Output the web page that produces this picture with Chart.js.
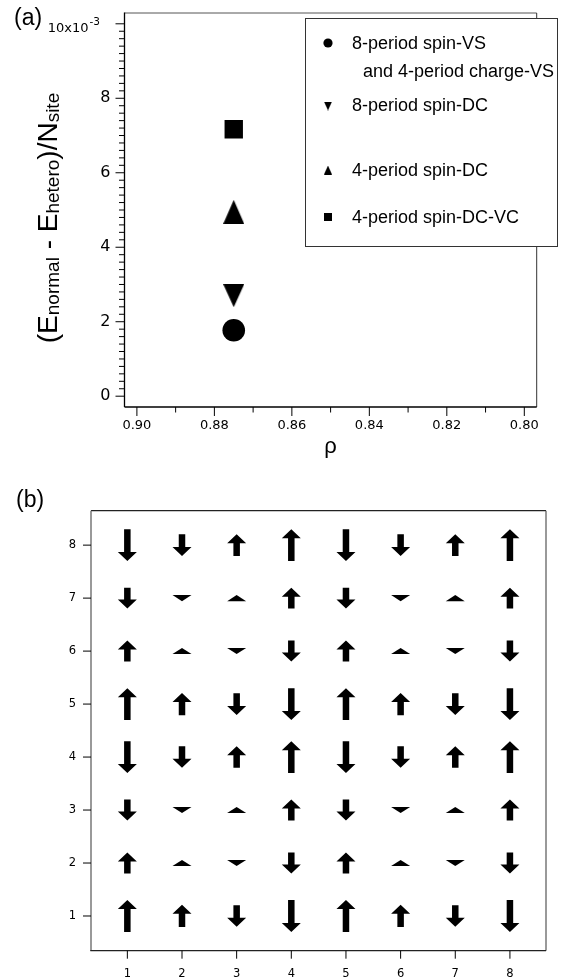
<!DOCTYPE html>
<html>
<head>
<meta charset="utf-8">
<script src="https://cdn.jsdelivr.net/npm/chart.js@4.4.1/dist/chart.umd.min.js"></script>
<style>
  html, body { margin: 0; padding: 0; background: #fff; }
  #wrap { position: relative; width: 568px; height: 980px; }
  #chartA { position: absolute; left: 0; top: 0; }
  #chartB { position: absolute; left: 0; top: 480px; }
</style>
</head>
<body>
<div id="wrap">
  <canvas id="chartA" width="568" height="470"></canvas>
  <canvas id="chartB" width="568" height="500"></canvas>
</div>
<script>
// ================= DATA (a) =================
const seriesNames = ["8-period spin-VS", "8-period spin-DC", "4-period spin-DC", "4-period spin-DC-VC"];
const rhoValues = [0.875, 0.875, 0.875, 0.875];
const energyValues = [1.77, 2.70, 4.95, 7.17];   // x10^-3
const xTickLabels = [0.80, 0.82, 0.84, 0.86, 0.88, 0.90];
const yTickLabels = [0, 2, 4, 6, 8, 10];

// ================= DATA (b) =================
const siteCols = [1, 2, 3, 4, 5, 6, 7, 8];
const siteRows = [1, 2, 3, 4, 5, 6, 7, 8];
// signed spin per site, + is up (row 1 at the bottom)
const spinRow1 = [ 1.00,  0.70, -0.68, -1.00,  1.00,  0.70, -0.68, -1.00];
const spinRow2 = [ 0.66,  0.19, -0.19, -0.66,  0.66,  0.19, -0.19, -0.66];
const spinRow3 = [-0.66, -0.19,  0.19,  0.66, -0.66, -0.19,  0.19,  0.66];
const spinRow4 = [-1.00, -0.68,  0.68,  1.00, -1.00, -0.68,  0.68,  1.00];
const spinRow5 = [ 1.00,  0.70, -0.68, -1.00,  1.00,  0.70, -0.68, -1.00];
const spinRow6 = [ 0.66,  0.19, -0.19, -0.66,  0.66,  0.19, -0.19, -0.66];
const spinRow7 = [-0.66, -0.19,  0.19,  0.66, -0.66, -0.19,  0.19,  0.66];
const spinRow8 = [-1.00, -0.68,  0.68,  1.00, -1.00, -0.68,  0.68,  1.00];
const gridTickLabels = [1, 2, 3, 4, 5, 6, 7, 8];

const spinRows = [spinRow1, spinRow2, spinRow3, spinRow4, spinRow5, spinRow6, spinRow7, spinRow8];

// ================= HELPERS =================
const TICK_FONT = "DejaVu Sans";
const TEXT_FONT = "Liberation Sans";

function makeTriangle(w, h, down) {
  const c = document.createElement("canvas");
  c.width = w; c.height = h;
  const g = c.getContext("2d");
  g.fillStyle = "#000";
  g.beginPath();
  if (down) { g.moveTo(0, 0); g.lineTo(w, 0); g.lineTo(w / 2, h); }
  else { g.moveTo(w / 2, 0); g.lineTo(w, h); g.lineTo(0, h); }
  g.closePath();
  g.fill();
  return c;
}

function line(ctx, x1, y1, x2, y2, color, width) {
  ctx.strokeStyle = color;
  ctx.lineWidth = width;
  ctx.beginPath();
  ctx.moveTo(x1, y1);
  ctx.lineTo(x2, y2);
  ctx.stroke();
}

function drawAxisTicks(ctx, scale, values, len) {
  const area = scale.chart.chartArea;
  values.forEach(v => {
    const p = scale.getPixelForValue(v);
    if (scale.isHorizontal()) line(ctx, p, area.bottom, p, area.bottom + len, "#000", 1);
    else line(ctx, area.left, p, area.left - len, p, "#000", 1);
  });
}

// fixed axis box, no extra label overhang padding
function fixBox(prop, size) {
  return s => {
    s[prop] = size;
    s.paddingTop = 0; s.paddingBottom = 0; s.paddingLeft = 0; s.paddingRight = 0;
  };
}

// ================= PANEL (a) =================
const markerStyles = ["circle", makeTriangle(21, 23, true), makeTriangle(21, 24, false), "rect"];
const markerRadii = [11.3, 12, 12, 13];

const panelAPlugin = {
  id: "panelA",
  afterDraw(chart) {
    const { ctx, chartArea: a, scales: { x, y } } = chart;
    ctx.save();

    // frame
    line(ctx, a.left, a.top, a.right, a.top, "#555", 1);
    line(ctx, a.right, a.top, a.right, a.bottom, "#333", 1);
    line(ctx, a.left, a.top - 0.5, a.left, a.bottom, "#000", 1.3);
    line(ctx, a.left, a.bottom, a.right, a.bottom, "#000", 1.3);

    // ticks
    const yMinor = [], xMinor = [];
    for (let k = 1; k < 50; k++) if (k % 10) yMinor.push(k * 0.2);
    for (let k = 1; k < 10; k += 2) xMinor.push(0.80 + k * 0.01);
    drawAxisTicks(ctx, y, yTickLabels, 9);
    drawAxisTicks(ctx, y, yMinor, 5.5);
    drawAxisTicks(ctx, x, xTickLabels, 9);
    drawAxisTicks(ctx, x, xMinor, 5.5);

    // exponent label on the top tick
    const yTop = y.getPixelForValue(10);
    ctx.fillStyle = "#000";
    ctx.textAlign = "right";
    ctx.textBaseline = "alphabetic";
    ctx.font = "10.5px " + TICK_FONT;
    ctx.fillText("-3", 100, yTop + 1);
    ctx.font = "13px " + TICK_FONT;
    ctx.fillText("10x10", 88.5, yTop + 8.5);

    // panel label
    ctx.textAlign = "left";
    ctx.font = "23px " + TEXT_FONT;
    ctx.fillText("(a)", 14, 25);

    // x title
    ctx.textAlign = "center";
    ctx.font = "22px " + TEXT_FONT;
    ctx.fillText("ρ", (a.left + a.right) / 2, 453);

    // y title (rotated, with subscripts)
    const big = "28px " + TEXT_FONT, sub = "19px " + TEXT_FONT;
    const parts = [["(", big, 0], ["E", big, 0], ["normal", sub, 2], [" - ", big, 0], ["E", big, 0],
                   ["hetero", sub, 2], [")", big, 0], ["/", big, 0], ["N", big, 0], ["site", sub, 2]];
    let total = 0;
    parts.forEach(p => { ctx.font = p[1]; total += ctx.measureText(p[0]).width; });
    ctx.save();
    ctx.translate(57, 218);
    ctx.rotate(-Math.PI / 2);
    ctx.textAlign = "left";
    let cx = -total / 2;
    parts.forEach(p => {
      ctx.font = p[1];
      ctx.fillText(p[0], cx, p[2]);
      cx += ctx.measureText(p[0]).width;
    });
    ctx.restore();

    // legend
    ctx.fillStyle = "#fff";
    ctx.fillRect(305, 18, 252, 228);
    ctx.strokeStyle = "#333";
    ctx.lineWidth = 1;
    ctx.strokeRect(305.5, 18.5, 252, 228);
    ctx.fillStyle = "#000";
    const mx = 328;
    ctx.beginPath(); ctx.arc(mx, 43, 4.6, 0, Math.PI * 2); ctx.fill();
    ctx.drawImage(makeTriangle(8, 9, true), mx - 4, 106 - 4.5);
    ctx.drawImage(makeTriangle(8, 9, false), mx - 4, 170 - 4.5);
    ctx.fillRect(mx - 4, 217 - 4, 8, 8);
    ctx.font = "18px " + TEXT_FONT;
    ctx.textAlign = "left";
    ctx.textBaseline = "middle";
    ctx.fillText(seriesNames[0], 352, 44);
    ctx.fillText("and 4-period charge-VS", 363, 72);
    ctx.fillText(seriesNames[1], 352, 106);
    ctx.fillText(seriesNames[2], 352, 171);
    ctx.fillText(seriesNames[3], 352, 218);

    ctx.restore();
  }
};

new Chart(document.getElementById("chartA"), {
  type: "scatter",
  data: {
    datasets: seriesNames.map((name, i) => ({
      label: name,
      data: [{ x: rhoValues[i], y: energyValues[i] }],
      pointStyle: markerStyles[i],
      pointRadius: markerRadii[i],
      backgroundColor: "#000",
      borderColor: "#000",
      borderWidth: 0
    }))
  },
  options: {
    responsive: false,
    animation: false,
    events: [],
    layout: { padding: { top: 10, right: 31.3, left: 0, bottom: 0 } },
    plugins: { legend: { display: false }, tooltip: { enabled: false } },
    scales: {
      x: {
        type: "linear",
        reverse: true,
        min: 0.7968,
        max: 0.9032,
        afterBuildTicks: s => { s.ticks = xTickLabels.map(v => ({ value: v })); },
        afterFit: fixBox("height", 63),
        grid: { display: false, drawTicks: false },
        border: { display: false },
        ticks: {
          color: "#000",
          font: { family: TICK_FONT, size: 13 },
          padding: 11,
          maxRotation: 0,
          autoSkip: false,
          callback: v => v.toFixed(2)
        }
      },
      y: {
        type: "linear",
        min: -0.29,
        max: 10.29,
        afterBuildTicks: s => { s.ticks = yTickLabels.map(v => ({ value: v })); },
        afterFit: fixBox("width", 124.5),
        grid: { display: false, drawTicks: false },
        border: { display: false },
        ticks: {
          color: "#000",
          font: { family: TICK_FONT, size: 16 },
          padding: 14,
          autoSkip: false,
          callback: v => (v === 10 ? "" : String(v))
        }
      }
    }
  },
  plugins: [panelAPlugin]
});

// ================= PANEL (b) =================
const ARROW_HALF = 0.3;   // half arrow length (data units) for |spin| = 1
const HEAD_H = 9, HEAD_W = 19, SHAFT_W = 6.5;

const sitePoints = [];
siteRows.forEach((row, r) => {
  siteCols.forEach((col, c) => sitePoints.push({ x: col, y: row, s: spinRows[r][c] }));
});

const panelBPlugin = {
  id: "panelB",
  afterDatasetsDraw(chart) {
    const { ctx, chartArea: a, scales: { x, y } } = chart;
    ctx.save();

    // arrows
    ctx.fillStyle = "#000";
    chart.data.datasets[0].data.forEach(p => {
      const cx = x.getPixelForValue(p.x);
      const tail = y.getPixelForValue(p.y - p.s * ARROW_HALF);
      const tip = y.getPixelForValue(p.y + p.s * ARROW_HALF);
      const dir = Math.sign(tip - tail);
      const len = Math.abs(tip - tail);
      const hh = Math.min(HEAD_H, len);
      const base = tip - dir * hh;
      ctx.beginPath();
      ctx.moveTo(cx, tip);
      ctx.lineTo(cx + HEAD_W / 2, base);
      if (len > hh) {
        ctx.lineTo(cx + SHAFT_W / 2, base);
        ctx.lineTo(cx + SHAFT_W / 2, tail);
        ctx.lineTo(cx - SHAFT_W / 2, tail);
        ctx.lineTo(cx - SHAFT_W / 2, base);
      }
      ctx.lineTo(cx - HEAD_W / 2, base);
      ctx.closePath();
      ctx.fill();
    });

    // frame
    line(ctx, a.left, a.top, a.right, a.top, "#222", 1.2);
    line(ctx, a.right, a.top, a.right, a.bottom, "#555", 1.2);
    line(ctx, a.left, a.top, a.left, a.bottom, "#777", 1.5);
    line(ctx, a.left - 0.7, a.bottom, a.right, a.bottom, "#222", 1.3);
    drawAxisTicks(ctx, x, gridTickLabels, 8);
    drawAxisTicks(ctx, y, gridTickLabels, 8);

    // panel label
    ctx.fillStyle = "#000";
    ctx.font = "23px " + TEXT_FONT;
    ctx.textAlign = "left";
    ctx.textBaseline = "alphabetic";
    ctx.fillText("(b)", 16, 27);
    ctx.restore();
  }
};

new Chart(document.getElementById("chartB"), {
  type: "scatter",
  data: {
    datasets: [{ label: "spin", data: sitePoints, pointRadius: 0 }]
  },
  options: {
    responsive: false,
    animation: false,
    events: [],
    layout: { padding: { top: 30.7, right: 22, left: 0, bottom: 0 } },
    plugins: { legend: { display: false }, tooltip: { enabled: false } },
    scales: {
      x: {
        type: "linear",
        min: 0.335,
        max: 8.66,
        afterBuildTicks: s => { s.ticks = gridTickLabels.map(v => ({ value: v })); },
        afterFit: fixBox("height", 29.3),
        grid: { display: false, drawTicks: false },
        border: { display: false },
        ticks: { color: "#000", font: { family: TICK_FONT, size: 11.5 }, padding: 16, maxRotation: 0, autoSkip: false }
      },
      y: {
        type: "linear",
        min: 0.345,
        max: 8.65,
        afterBuildTicks: s => { s.ticks = gridTickLabels.map(v => ({ value: v })); },
        afterFit: fixBox("width", 91),
        grid: { display: false, drawTicks: false },
        border: { display: false },
        ticks: { color: "#000", font: { family: TICK_FONT, size: 11.5 }, padding: 15, autoSkip: false }
      }
    }
  },
  plugins: [panelBPlugin]
});
</script>
</body>
</html>
